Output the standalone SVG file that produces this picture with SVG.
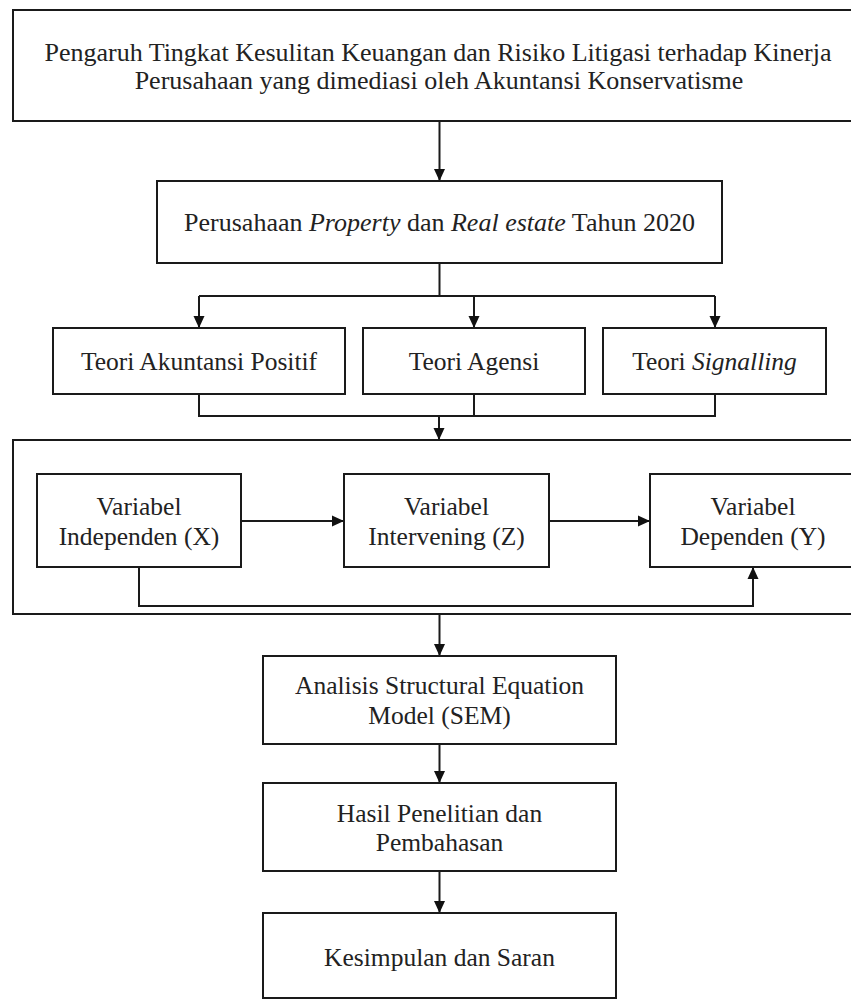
<svg xmlns="http://www.w3.org/2000/svg" width="851" height="1000" viewBox="0 0 851 1000">
<style>
.box{fill:#fff;stroke:#1a1a1a;stroke-width:2}
.ln{fill:none;stroke:#1a1a1a;stroke-width:2}
.t{font-family:"Liberation Serif","Times New Roman",serif;font-size:26px;fill:#222;text-anchor:middle}
.s{font-size:25.5px}
.i{font-style:italic}
</style>
<defs>
<marker id="ah" markerUnits="userSpaceOnUse" markerWidth="12" markerHeight="12" viewBox="0 0 12 12" refX="12" refY="6" orient="auto">
<path d="M0,0.5 L12,6 L0,11.5 Z" fill="#111"/>
</marker>
</defs>
<rect width="851" height="1000" fill="#fff"/>
<g id="connectors">
<line class="ln" x1="439.5" y1="121" x2="439.5" y2="181" marker-end="url(#ah)"/>
<polyline class="ln" points="439.5,263 439.5,296"/>
<polyline class="ln" points="199,296 715,296"/>
<line class="ln" x1="199" y1="296" x2="199" y2="328" marker-end="url(#ah)"/>
<line class="ln" x1="474" y1="296" x2="474" y2="328" marker-end="url(#ah)"/>
<line class="ln" x1="715" y1="296" x2="715" y2="328" marker-end="url(#ah)"/>
<polyline class="ln" points="199,394 199,416 715,416 715,394"/>
<line class="ln" x1="474" y1="394" x2="474" y2="416"/>
<line class="ln" x1="439" y1="416" x2="439" y2="440" marker-end="url(#ah)"/>
<line class="ln" x1="241" y1="521" x2="344" y2="521" marker-end="url(#ah)"/>
<line class="ln" x1="549" y1="521" x2="650" y2="521" marker-end="url(#ah)"/>
<polyline class="ln" points="139,567 139,606 753,606 753,567" marker-end="url(#ah)"/>
<line class="ln" x1="439.5" y1="614" x2="439.5" y2="656" marker-end="url(#ah)"/>
<line class="ln" x1="439.5" y1="744" x2="439.5" y2="783" marker-end="url(#ah)"/>
<line class="ln" x1="439.5" y1="871" x2="439.5" y2="913" marker-end="url(#ah)"/>
</g>
<g id="title">
<rect class="box" x="13" y="10" width="850" height="111"/>
<text class="t" x="438" y="61">Pengaruh Tingkat Kesulitan Keuangan dan Risiko Litigasi terhadap Kinerja</text>
<text class="t" x="439" y="89">Perusahaan yang dimediasi oleh Akuntansi Konservatisme</text>
</g>
<g id="populasi">
<rect class="box" x="157" y="181" width="565" height="82"/>
<text class="t" x="439.5" y="231">Perusahaan <tspan class="i">Property</tspan> dan <tspan class="i">Real estate</tspan> Tahun 2020</text>
</g>
<g id="teori-akuntansi">
<rect class="box" x="53" y="328" width="292" height="66"/>
<text class="t s" x="199" y="370">Teori Akuntansi Positif</text>
</g>
<g id="teori-agensi">
<rect class="box" x="363" y="328" width="222" height="66"/>
<text class="t s" x="474" y="370">Teori Agensi</text>
</g>
<g id="teori-signalling">
<rect class="box" x="603" y="328" width="223" height="66"/>
<text class="t s" x="714.5" y="370">Teori <tspan class="i">Signalling</tspan></text>
</g>
<g id="model-frame">
<rect class="box" x="13" y="440" width="850" height="174" fill="none" style="fill:none"/>
</g>
<g id="var-x">
<rect class="box" x="37" y="474" width="204" height="93"/>
<text class="t s" x="139" y="515">Variabel</text>
<text class="t s" x="139" y="545">Independen (X)</text>
</g>
<g id="var-z">
<rect class="box" x="344" y="474" width="205" height="93"/>
<text class="t s" x="446.5" y="515">Variabel</text>
<text class="t s" x="446.5" y="545">Intervening (Z)</text>
</g>
<g id="var-y">
<rect class="box" x="650" y="474" width="210" height="93"/>
<text class="t s" x="753" y="515">Variabel</text>
<text class="t s" x="753" y="545">Dependen (Y)</text>
</g>
<g id="sem">
<rect class="box" x="263" y="656" width="353" height="88"/>
<text class="t s" x="439.5" y="694">Analisis Structural Equation</text>
<text class="t s" x="439.5" y="724">Model (SEM)</text>
</g>
<g id="hasil">
<rect class="box" x="263" y="783" width="353" height="88"/>
<text class="t s" x="439.5" y="822">Hasil Penelitian dan</text>
<text class="t s" x="439.5" y="851">Pembahasan</text>
</g>
<g id="kesimpulan">
<rect class="box" x="263" y="913" width="353" height="85"/>
<text class="t s" x="439.5" y="966">Kesimpulan dan Saran</text>
</g>
</svg>
